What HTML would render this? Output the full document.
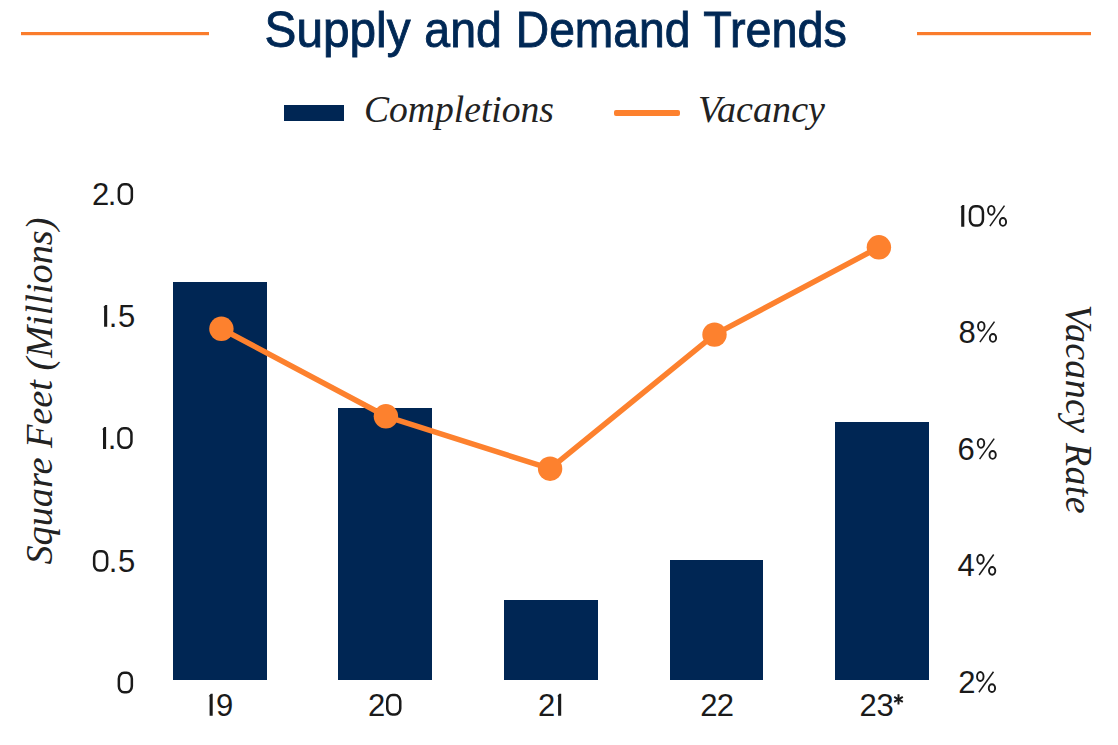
<!DOCTYPE html>
<html><head><meta charset="utf-8">
<style>
html,body{margin:0;padding:0;background:#fff;width:1118px;height:745px;overflow:hidden}
svg{display:block}
</style></head><body>
<svg width="1118" height="745" viewBox="0 0 1118 745">
<defs>
<path id="one" d="M-1.9,-21.9 L0,-21.9 L0,0 L-3.1,0 L-3.1,-19.5 L-4,-19.5 Z" fill="#1a1a1a"/>
<rect id="zero" x="1.25" y="-20.65" width="13" height="19.4" rx="5.2" ry="6" fill="none" stroke="#1a1a1a" stroke-width="2.5"/>
<g id="pct" fill="none" stroke="#1a1a1a">
<ellipse cx="4.2" cy="-16.45" rx="3.25" ry="4.5" stroke-width="1.9"/>
<line x1="2.8" y1="-0.7" x2="17.4" y2="-21.2" stroke-width="1.5"/>
<ellipse cx="15.85" cy="-4.85" rx="3.15" ry="3.9" stroke-width="1.9"/>
</g>
</defs>
<rect x="0" y="0" width="1118" height="745" fill="#fff"/>
<!-- title rules -->
<rect x="21" y="32" width="188" height="3.2" fill="#FA7C2C"/>
<rect x="917" y="32" width="174" height="3.2" fill="#FA7C2C"/>
<g font-family="Liberation Sans" font-size="50.5" fill="#002855" stroke="#002855" stroke-width="0.9">
<text transform="translate(264.6,46.8) scale(0.945,1)">Supply</text>
<text transform="translate(424.3,46.8) scale(0.92,1)">and</text>
<text transform="translate(515.8,46.8) scale(0.915,1)">Demand</text>
<text transform="translate(703.2,46.8) scale(0.926,1)">Trends</text>
</g>
<!-- legend -->
<rect x="284" y="105" width="60" height="16" fill="#002654"/>
<text x="364" y="121.5" font-family="Liberation Serif" font-style="italic" font-size="38" fill="#222" textLength="190" lengthAdjust="spacingAndGlyphs">Completions</text>
<rect x="614" y="110" width="66" height="6" rx="2" fill="#FD812E"/>
<text x="698" y="121.5" font-family="Liberation Serif" font-style="italic" font-size="38" fill="#222" textLength="127" lengthAdjust="spacingAndGlyphs">Vacancy</text>
<!-- bars -->
<g fill="#002654">
<rect x="173" y="282" width="94" height="398"/>
<rect x="338" y="408" width="94" height="272"/>
<rect x="504" y="600" width="94" height="80"/>
<rect x="670" y="560" width="93" height="120"/>
<rect x="835" y="422" width="94" height="258"/>
</g>
<!-- line -->
<polyline points="221.4,328.8 385.9,416.3 550.1,468.7 714.5,334.6 878.9,247.3" fill="none" stroke="#FD812E" stroke-width="5.5" stroke-linejoin="round"/>
<g fill="#FD812E">
<circle cx="221.4" cy="328.8" r="12.2"/>
<circle cx="385.9" cy="416.3" r="12.2"/>
<circle cx="550.1" cy="468.7" r="12.2"/>
<circle cx="714.5" cy="334.6" r="12.2"/>
<circle cx="878.9" cy="247.3" r="12.2"/>
</g>
<!-- left axis labels -->
<g font-family="Liberation Sans" font-size="31" fill="#1a1a1a">
<text x="91.9" y="205">2</text><text x="107.7" y="205">.</text><use href="#zero" x="117.6" y="205"/>
<use href="#one" x="107.2" y="326.8"/><text x="108.8" y="326.8">.</text><text x="118" y="326.8">5</text>
<use href="#one" x="106.1" y="448.9"/><text x="107.7" y="448.9">.</text><use href="#zero" x="117.2" y="448.9"/>
<use href="#zero" x="92.9" y="571.8"/><text x="108.8" y="571.8">.</text><text x="118" y="571.8">5</text>
<use href="#zero" x="117.6" y="693.5"/>
</g>
<!-- right axis labels -->
<g font-family="Liberation Sans" font-size="31" fill="#1a1a1a">
<use href="#one" x="964.3" y="226.8"/><use href="#zero" x="968.7" y="226.8"/><use href="#pct" x="987.1" y="226.8"/>
<text x="958.4" y="342.8">8</text><use href="#pct" x="977.1" y="342.8"/>
<text x="957.4" y="459.8">6</text><use href="#pct" x="976.8" y="459.8"/>
<text x="957.6" y="575.7">4</text><use href="#pct" x="976.3" y="575.7"/>
<text x="958.3" y="693">2</text><use href="#pct" x="976.1" y="693"/>
</g>
<!-- x labels -->
<g font-family="Liberation Sans" font-size="31" fill="#1a1a1a">
<use href="#one" x="212.7" y="715.7"/><text x="216" y="715.7">9</text>
<text x="368.1" y="715.7">2</text><use href="#zero" x="386" y="715.7"/>
<text x="538.1" y="715.7">2</text><use href="#one" x="561.2" y="715.7"/>
<text x="700.3" y="715.7">2</text><text x="716.7" y="715.7">2</text>
<text x="859.5" y="715.7">2</text><text x="876.6" y="715.7">3</text>
<g stroke="#1a1a1a" stroke-width="2">
<line x1="898.5" y1="694.2" x2="898.5" y2="704.5"/>
<line x1="894.2" y1="696.8" x2="902.8" y2="701.8"/>
<line x1="894.2" y1="701.8" x2="902.8" y2="696.8"/>
</g>
</g>
<!-- axis titles -->
<text transform="translate(52.3,564.5) rotate(-90)" font-family="Liberation Serif" font-style="italic" font-size="38" fill="#222" textLength="347" lengthAdjust="spacingAndGlyphs">Square Feet (Millions)</text>
<text transform="translate(1065.6,304.6) rotate(90)" font-family="Liberation Serif" font-style="italic" font-size="38" fill="#222" textLength="209" lengthAdjust="spacing">Vacancy Rate</text>
</svg>
</body></html>
